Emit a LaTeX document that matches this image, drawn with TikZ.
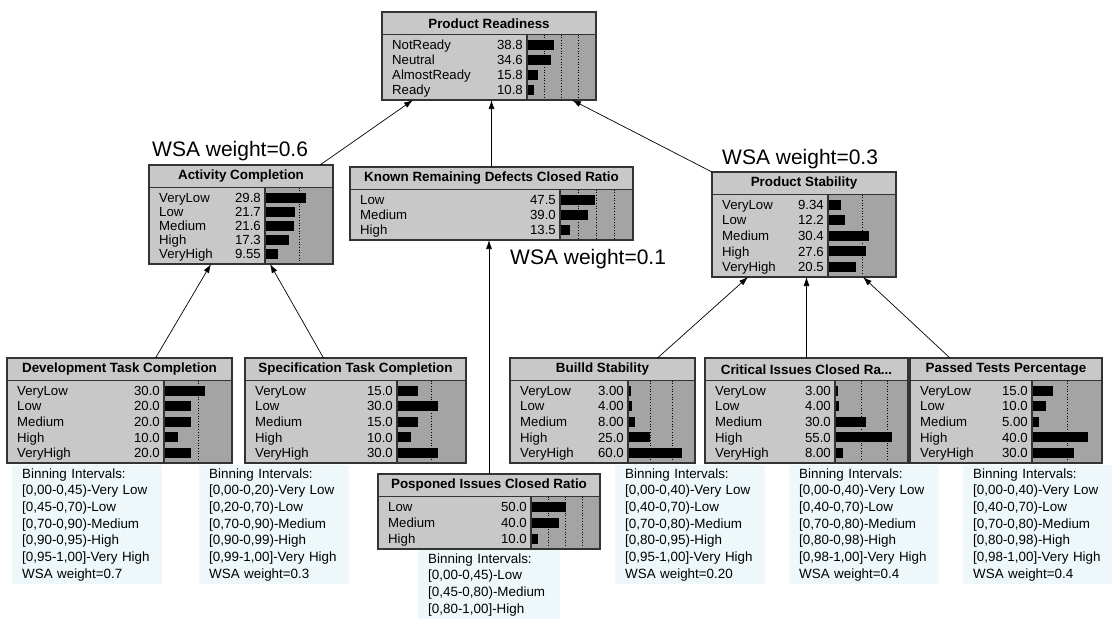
\documentclass[tikz,border=0pt]{standalone}
\usepackage{fontspec}
\setmainfont{Liberation Sans}
\usetikzlibrary{arrows.meta}

\definecolor{panelgray}{HTML}{C8C8C8}
\definecolor{bargray}{HTML}{A4A4A4}
\definecolor{framegray}{HTML}{333333}
\definecolor{binfill}{HTML}{EEF8FB}

\tikzset{
  frame/.style={draw=framegray, line width=1.5pt, inner sep=0pt, outer sep=0pt, anchor=north west},
  titletext/.style={font=\fontsize{13.4}{15}\selectfont\bfseries, inner sep=0pt},
  statetext/.style={font=\fontsize{13.2}{15}\selectfont, inner sep=0pt},
  guide/.style={dotted, line width=0.7pt},
  link/.style={draw, line width=0.7pt, -{Latex[length=9pt,width=6pt]}},
  binbox/.style={fill=binfill, inner xsep=10pt, inner ysep=0pt, anchor=north west,
    align=left, text width=130pt, font=\fontsize{13.4}{16.7}\selectfont},
  weight/.style={font=\fontsize{21}{24}\selectfont, inner sep=0pt, anchor=base west},
}

% Belief-bar node: #1 name, #2 left, #3 top, #4 right, #5 bottom,
% #6 left edge of the bar panel, #7 title, #8 percentage spanned by the panel,
% #9 states as label/value
\newcount\staterows
\newcommand\netnode[9]{%
  \global\staterows=0
  \foreach \s in {#9} {\global\advance\staterows by 1}
  \pgfmathsetmacro\ytitle{#3+22.5}
  \pgfmathsetmacro\rowstep{(#5-\ytitle-20)/(\the\staterows-1)}
  \pgfmathsetmacro\panelw{#4-#6}
  \fill[panelgray] (#2,#3) rectangle (#4,#5);
  \fill[bargray] (#6,\ytitle) rectangle (#4,#5);
  \foreach \g in {25,50,75} {
    \ifdim\g pt<#8pt
      \draw[guide] ({#6+\g/#8*\panelw},\ytitle) -- ({#6+\g/#8*\panelw},#5);
    \fi
  }
  \node[titletext] (#1-title) at ({(#2+#4)/2},{#3+11.5}) {#7};
  \foreach \lab/\val [count=\i] in {#9} {
    \pgfmathsetmacro\yrow{\ytitle+10+(\i-1)*\rowstep}
    \node[statetext, anchor=base west] (#1-s\i) at ({#2+10},{\yrow+4.7}) {\lab};
    \node[statetext, anchor=base east] (#1-p\i) at ({#6-4},{\yrow+4.7}) {\val};
    \fill ({#6},{\yrow-5}) rectangle ({#6+\val/#8*\panelw},{\yrow+5});
  }
  \draw[framegray, line width=1.5pt] (#2,\ytitle) -- (#4,\ytitle) (#6,\ytitle) -- (#6,#5);
  \node[frame, minimum width={#4-#2}, minimum height={#5-#3}] (#1) at (#2,#3) {};
}

\begin{document}
\begin{tikzpicture}[x=1pt, y=-1pt]
  \fill[white] (0,0) rectangle (1112,619);
  \useasboundingbox (0,0) rectangle (1112,619);

  % top level
  \netnode{pr}{382}{12}{596}{100}{527}{Product Readiness}{100}
    {NotReady/38.8, Neutral/34.6, AlmostReady/15.8, Ready/10.8}

  % second level
  \netnode{act}{149}{165}{333}{264}{265}{Activity Completion}{50}
    {VeryLow/29.8, Low/21.7, Medium/21.6, High/17.3, VeryHigh/9.55}
  \netnode{known}{350}{167}{633}{240}{560}{Known Remaining Defects Closed Ratio}{100}
    {Low/47.5, Medium/39.0, High/13.5}
  \netnode{ps}{712}{172}{896}{277}{828}{Product Stability}{50}
    {VeryLow/9.34, Low/12.2, Medium/30.4, High/27.6, VeryHigh/20.5}

  % leaves
  \netnode{dev}{7}{358}{232}{463}{164}{Development Task Completion}{50}
    {VeryLow/30.0, Low/20.0, Medium/20.0, High/10.0, VeryHigh/20.0}
  \netnode{spec}{245}{358}{466}{463}{397}{Specification Task Completion}{50}
    {VeryLow/15.0, Low/30.0, Medium/15.0, High/10.0, VeryHigh/30.0}
  \netnode{pos}{378}{474}{600}{549}{531}{Posponed Issues Closed Ratio}{100}
    {Low/50.0, Medium/40.0, High/10.0}
  \netnode{build}{510}{358}{695}{463}{628}{Builld Stability}{75}
    {VeryLow/3.00, Low/4.00, Medium/8.00, High/25.0, VeryHigh/60.0}
  \netnode{crit}{705}{358}{908}{463}{835}{Critical Issues Closed Ra...}{70}
    {VeryLow/3.00, Low/4.00, Medium/30.0, High/55.0, VeryHigh/8.00}
  \netnode{pass}{910}{358}{1102}{463}{1032}{Passed Tests Percentage}{50}
    {VeryLow/15.0, Low/10.0, Medium/5.00, High/40.0, VeryHigh/30.0}

  % binning notes
  \node[binbox, minimum height=119pt] (devbin) at (12,465)
    {Binning~Intervals:\\{}[0,00-0,45)-Very~Low\\{}[0,45-0,70)-Low\\{}[0,70-0,90)-Medium\\{}[0,90-0,95)-High\\{}[0,95-1,00]-Very~High\\WSA~weight=0.7};
  \node[binbox, minimum height=119pt] (specbin) at (199,465)
    {Binning~Intervals:\\{}[0,00-0,20)-Very~Low\\{}[0,20-0,70)-Low\\{}[0,70-0,90)-Medium\\{}[0,90-0,99)-High\\{}[0,99-1,00]-Very~High\\WSA~weight=0.3};
  \node[binbox, minimum height=69pt, text width=122pt] (posbin) at (418,550)
    {Binning~Intervals:\\{}[0,00-0,45)-Low\\{}[0,45-0,80)-Medium\\{}[0,80-1,00]-High};
  \node[binbox, minimum height=119pt] (buildbin) at (615,465)
    {Binning~Intervals:\\{}[0,00-0,40)-Very~Low\\{}[0,40-0,70)-Low\\{}[0,70-0,80)-Medium\\{}[0,80-0,95)-High\\{}[0,95-1,00]-Very~High\\WSA~weight=0.20};
  \node[binbox, minimum height=119pt] (critbin) at (789,465)
    {Binning~Intervals:\\{}[0,00-0,40)-Very~Low\\{}[0,40-0,70)-Low\\{}[0,70-0,80)-Medium\\{}[0,80-0,98)-High\\{}[0,98-1,00]-Very~High\\WSA~weight=0.4};
  \node[binbox, minimum height=119pt] (passbin) at (963,465)
    {Binning~Intervals:\\{}[0,00-0,40)-Very~Low\\{}[0,40-0,70)-Low\\{}[0,70-0,80)-Medium\\{}[0,80-0,98)-High\\{}[0,98-1,00]-Very~High\\WSA~weight=0.4};

  % weights of the parents
  \node[weight] (wact) at (152,156) {WSA weight=0.6};
  \node[weight] (wps) at (722,164) {WSA weight=0.3};
  \node[weight] (wknown) at (510,264) {WSA weight=0.1};

  % links
  \draw[link] ([xshift=-13pt]act.north east) -- ([xshift=-76pt]pr.south);
  \draw[link] (known.north) -- (known.north |- pr.south);
  \draw[link] (ps.north west) -- ([xshift=83pt]pr.south);
  \draw[link] ([xshift=36pt]dev.north) -- ([xshift=-30pt]act.south);
  \draw[link] ([xshift=-32pt]spec.north) -- ([xshift=29pt]act.south);
  \draw[link] (pos.north) -- (pos.north |- known.south);
  \draw[link] ([xshift=55pt]build.north) -- ([xshift=-56pt]ps.south);
  \draw[link] (crit.north) -- (crit.north |- ps.south);
  \draw[link] ([xshift=-56pt]pass.north) -- ([xshift=59pt]ps.south);
\end{tikzpicture}
\end{document}
